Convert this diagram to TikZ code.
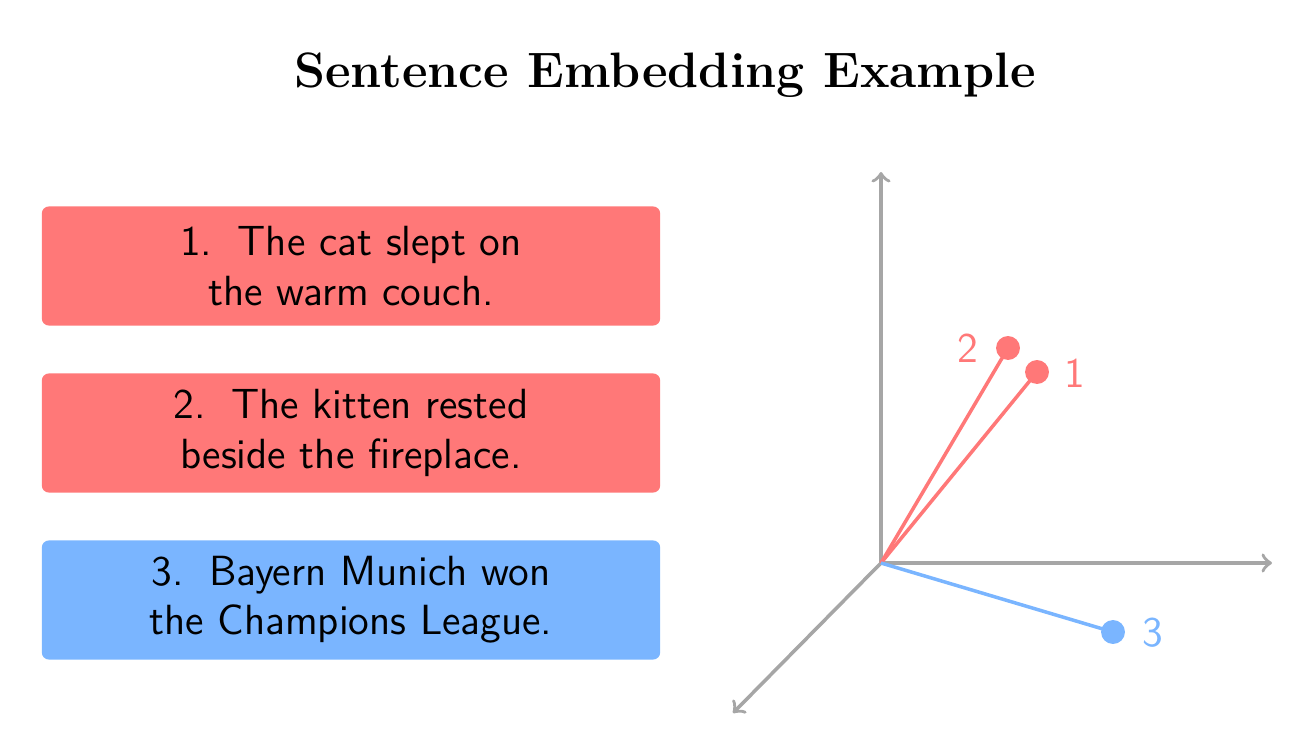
\documentclass[tikz,border=0pt]{standalone}
\definecolor{cred}{RGB}{255,120,120}
\definecolor{cblue}{RGB}{122,181,255}
\definecolor{cgray}{RGB}{166,166,166}
\begin{document}
\begin{tikzpicture}[x=0.01cm,y=-0.01cm,
  sbox/.style={rectangle, rounded corners=2pt, minimum width=6.18cm, minimum height=1.19cm, align=center, font=\sffamily\large, text=black, inner sep=0pt},
  axisline/.style={draw=cgray, line width=1pt, ->},
  vecline/.style={line width=1pt},
  dotn/.style={circle, inner sep=0pt, minimum size=6.8pt},
  lab/.style={font=\sffamily\large}]
\useasboundingbox (0,0) rectangle (1315,755);
\node[font=\fontsize{14.15}{17}\selectfont\bfseries] (title) at (665,75) {Sentence Embedding Example};
\node[sbox, fill=cred] (s1) at (351,266) {1.\hspace{0.6em}The cat slept on\\the warm couch.};
\node[sbox, fill=cred] (s2) at (351,433) {2.\hspace{0.6em}The kitten rested\\beside the fireplace.};
\node[sbox, fill=cblue] (s3) at (351,600) {3.\hspace{0.6em}Bayern Munich won\\the Champions League.};
\coordinate (O) at (881,563);
\coordinate (ay) at (881,172);
\coordinate (ax) at (1272,563);
\coordinate (az) at (733,713);
\draw[axisline] (O) -- (ay);
\draw[axisline] (O) -- (ax);
\draw[axisline] (O) -- (az);
\node[dotn, fill=cred] (p1) at (1037,372) {};
\node[dotn, fill=cred] (p2) at (1008,348) {};
\node[dotn, fill=cblue] (p3) at (1113,632) {};
\draw[vecline, cred] (O) -- (p1.center);
\draw[vecline, cred] (O) -- (p2.center);
\draw[vecline, cblue] (O) -- (p3.center);
\node[lab, text=cred] (l1) at (1075,373) {1};
\node[lab, text=cred] (l2) at (968,348) {2};
\node[lab, text=cblue] (l3) at (1153,633) {3};
\end{tikzpicture}
\end{document}
